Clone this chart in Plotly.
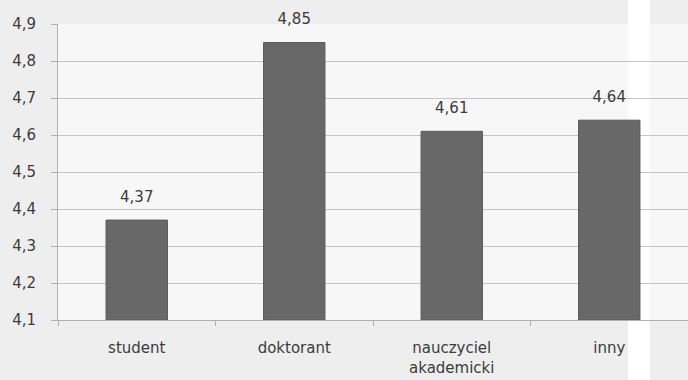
import plotly.graph_objects as go

# Categories and mean scores
categories = ["student", "doktorant", "nauczyciel<br>akademicki", "inny"]
scores = [4.37, 4.85, 4.61, 4.64]

# Y axis ticks
y_ticks = [4.1, 4.2, 4.3, 4.4, 4.5, 4.6, 4.7, 4.8, 4.9]
y_floor = 4.1

FONT = "DejaVu Sans"
TEXT_COLOR = "#3c3c3c"
GRID = "#c4c4c4"
AXIS = "#b0b0b0"

fig = go.Figure()

# bars start at the axis floor
fig.add_trace(go.Bar(
    x=categories,
    y=[s - y_floor for s in scores],
    base=y_floor,
    width=0.39,
    marker=dict(color="#686868", line=dict(color="#5a5a5a", width=1)),
    hoverinfo="skip",
))

# value labels above each bar
fig.add_trace(go.Scatter(
    x=categories,
    y=scores,
    mode="markers+text",
    marker=dict(size=22, opacity=0),
    text=[f"{s:.2f}".replace(".", ",") for s in scores],
    textposition="top center",
    textfont=dict(family=FONT, size=15, color=TEXT_COLOR),
    cliponaxis=False,
    hoverinfo="skip",
))

fig.update_layout(
    width=688,
    height=380,
    margin=dict(l=58, r=0, t=24, b=60),
    paper_bgcolor="#eeeeee",
    plot_bgcolor="rgba(0,0,0,0)",
    showlegend=False,
    separators=", ",
    font=dict(family=FONT, size=15, color=TEXT_COLOR),
    shapes=[
        # plot area background
        dict(type="rect", xref="paper", yref="paper",
             x0=0, x1=1, y0=0, y1=1,
             fillcolor="#f7f7f7", line=dict(width=0), layer="below"),
        # light vertical band near the right edge
        dict(type="rect", xref="paper", yref="paper",
             x0=(628 - 58) / 630, x1=(650 - 58) / 630,
             y0=-60 / 296, y1=1 + 24 / 296,
             fillcolor="#ffffff", line=dict(width=0), layer="below"),
    ],
)

fig.update_xaxes(
    type="category",
    showline=True, linecolor=AXIS, linewidth=1,
    ticks="outside", tickson="boundaries", ticklen=5, tickcolor=AXIS,
    ticklabelstandoff=14,
    showgrid=False,
    tickfont=dict(family=FONT, size=15, color=TEXT_COLOR),
)

fig.update_yaxes(
    range=[y_floor, 4.9],
    tickvals=y_ticks,
    tickformat=".1f",
    showline=True, linecolor=AXIS, linewidth=1,
    ticks="outside", ticklen=6, tickcolor=AXIS,
    ticklabelstandoff=12,
    showgrid=True, gridcolor=GRID, gridwidth=1,
    zeroline=False,
    tickfont=dict(family=FONT, size=15, color=TEXT_COLOR),
)

fig.write_html("out.html")
